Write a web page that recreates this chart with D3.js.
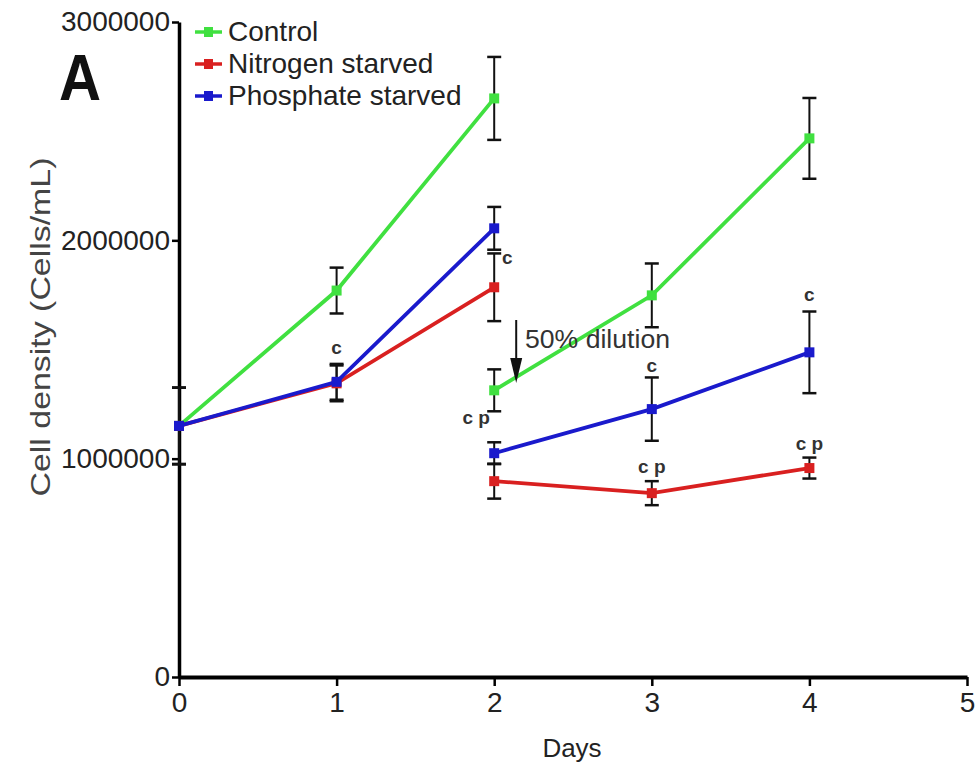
<!DOCTYPE html>
<html><head><meta charset="utf-8">
<script src="https://cdn.jsdelivr.net/npm/d3@7"></script>
<style>body{margin:0;background:#fff}svg{display:block}</style>
</head><body><svg id="c" width="976" height="766"></svg>
<script>
// ---- data ----
const daysPre = [0, 1, 2];
const daysPost = [2, 3, 4];
const controlPre = [1150000, 1770000, 2650000];
const controlPreErr = [175000, 105000, 190000];
const controlPost = [1313000, 1748000, 2467000];
const controlPostErr = [96000, 146000, 185000];
const nitrogenPre = [1150000, 1345000, 1785000];
const nitrogenPreErr = [175000, 82000, 155000];
const nitrogenPost = [897000, 842000, 957000];
const nitrogenPostErr = [80000, 55000, 48000];
const phosphatePre = [1150000, 1352000, 2055000];
const phosphatePreErr = [175000, 82000, 98000];
const phosphatePost = [1025000, 1227000, 1487000];
const phosphatePostErr = [50000, 145000, 187000];
const seriesNames = ["Control", "Nitrogen starved", "Phosphate starved"];
const xTicks = [0, 1, 2, 3, 4, 5];
const yTicks = [0, 1000000, 2000000, 3000000];
// significance annotations: day, value anchor, text
const annotDays = [1, 2, 2, 3, 3, 4, 4];
const annotVals = [1480000, 1890000, 1160000, 1395000, 935000, 1720000, 1040000];
const annotText = ["c", "c", "c p", "c", "c p", "c", "c p"];
const annotDx = [0, 13, -18, 0, 0, 0, 0];

const colors = ["#40e040", "#d92020", "#1a1acc"];
const FONT = "'Liberation Sans', Arial, sans-serif";

const svg = d3.select("#c");
const x = d3.scaleLinear().domain([0, 5]).range([179, 967]);
const y = d3.scaleLinear().domain([0, 3000000]).range([677, 22]);

const series = [
  {pre: controlPre, preErr: controlPreErr, post: controlPost, postErr: controlPostErr},
  {pre: nitrogenPre, preErr: nitrogenPreErr, post: nitrogenPost, postErr: nitrogenPostErr},
  {pre: phosphatePre, preErr: phosphatePreErr, post: phosphatePost, postErr: phosphatePostErr}
];

// axes
const yAxis = d3.axisLeft(y).tickValues(yTicks).tickFormat(d3.format("d")).tickSize(7).tickSizeOuter(0).tickPadding(2);
const gy = svg.append("g").attr("transform", `translate(${x(0)},0)`).call(yAxis);
gy.select(".domain").attr("stroke", "#000").attr("stroke-width", 3.5);
gy.selectAll(".tick line").attr("stroke", "#000").attr("stroke-width", 2.5);
gy.selectAll(".tick text").attr("font-family", FONT).attr("font-size", 28).attr("fill", "#222");

const xAxis = d3.axisBottom(x).tickValues(xTicks).tickFormat(d3.format("d")).tickSize(9).tickSizeOuter(0).tickPadding(6);
const gx = svg.append("g").attr("transform", `translate(0,${y(0)})`).call(xAxis);
gx.select(".domain").attr("stroke", "#000").attr("stroke-width", 4);
gx.selectAll(".tick line").attr("stroke", "#000").attr("stroke-width", 2.5);
gx.selectAll(".tick text").attr("font-family", FONT).attr("font-size", 28).attr("fill", "#222");

// axis titles
svg.append("text").attr("x", 572).attr("y", 757).attr("text-anchor", "middle")
  .attr("font-family", FONT).attr("font-size", 26).attr("fill", "#222").text("Days");
svg.append("text").attr("transform", "translate(50,327) rotate(-90)").attr("text-anchor", "middle")
  .attr("font-family", FONT).attr("font-size", 28).attr("fill", "#444")
  .attr("textLength", 339).attr("lengthAdjust", "spacingAndGlyphs").text("Cell density (Cells/mL)");

// panel letter
svg.append("text").attr("x", 59).attr("y", 100).attr("font-family", FONT)
  .attr("font-weight", "bold").attr("font-size", 64).attr("textLength", 42).attr("lengthAdjust", "spacingAndGlyphs")
  .attr("fill", "#111").text("A");

const line = d3.line().x(d => x(d[0])).y(d => y(d[1]));

// error bars
const eb = svg.append("g");
function errBars(days, vals, errs) {
  days.forEach((d, i) => {
    const cx = x(d), y1 = y(vals[i] + errs[i]), y2 = y(vals[i] - errs[i]);
    eb.append("line").attr("x1", cx).attr("x2", cx).attr("y1", y1).attr("y2", y2).attr("stroke", "#111").attr("stroke-width", 2);
    [y1, y2].forEach(yy => eb.append("line").attr("x1", cx - 7).attr("x2", cx + 7).attr("y1", yy).attr("y2", yy).attr("stroke", "#111").attr("stroke-width", 2.5));
  });
}
series.forEach(s => { errBars(daysPre, s.pre, s.preErr); errBars(daysPost, s.post, s.postErr); });

// lines and markers
series.forEach((s, k) => {
  const g = svg.append("g");
  [[daysPre, s.pre], [daysPost, s.post]].forEach(([ds, vs]) => {
    const pts = ds.map((d, i) => [d, vs[i]]);
    g.append("path").datum(pts).attr("d", line).attr("fill", "none").attr("stroke", colors[k]).attr("stroke-width", 3.8);
    g.selectAll(null).data(pts).enter().append("rect")
      .attr("x", d => x(d[0]) - 5).attr("y", d => y(d[1]) - 5).attr("width", 10).attr("height", 10)
      .attr("fill", colors[k]);
  });
});

// annotations
annotText.forEach((t, i) => {
  svg.append("text").attr("x", x(annotDays[i]) + annotDx[i]).attr("y", y(annotVals[i])).attr("text-anchor", "middle")
    .attr("font-family", FONT).attr("font-weight", "bold").attr("font-size", 19)
    .attr("fill", "#333").text(t);
});

// dilution arrow
const ax = x(2) + 22;
svg.append("line").attr("x1", ax).attr("x2", ax).attr("y1", 320).attr("y2", 362).attr("stroke", "#111").attr("stroke-width", 2);
svg.append("path").attr("d", `M${ax - 6},358 L${ax + 6},358 L${ax},383 Z`).attr("fill", "#111");
svg.append("text").attr("x", 525).attr("y", 348).attr("font-family", FONT)
  .attr("font-size", 25).attr("fill", "#333").attr("textLength", 145).attr("lengthAdjust", "spacingAndGlyphs").text("50% dilution");

// legend
const lg = svg.append("g");
seriesNames.forEach((n, k) => {
  const cy = 32 + k * 32;
  lg.append("line").attr("x1", 195).attr("x2", 222).attr("y1", cy).attr("y2", cy).attr("stroke", colors[k]).attr("stroke-width", 3.5);
  lg.append("rect").attr("x", 204).attr("y", cy - 5).attr("width", 9).attr("height", 10).attr("fill", colors[k]);
  lg.append("text").attr("x", 228).attr("y", cy + 9).attr("font-family", FONT)
    .attr("font-size", 28).attr("fill", "#222").text(n);
});
</script></body></html>
